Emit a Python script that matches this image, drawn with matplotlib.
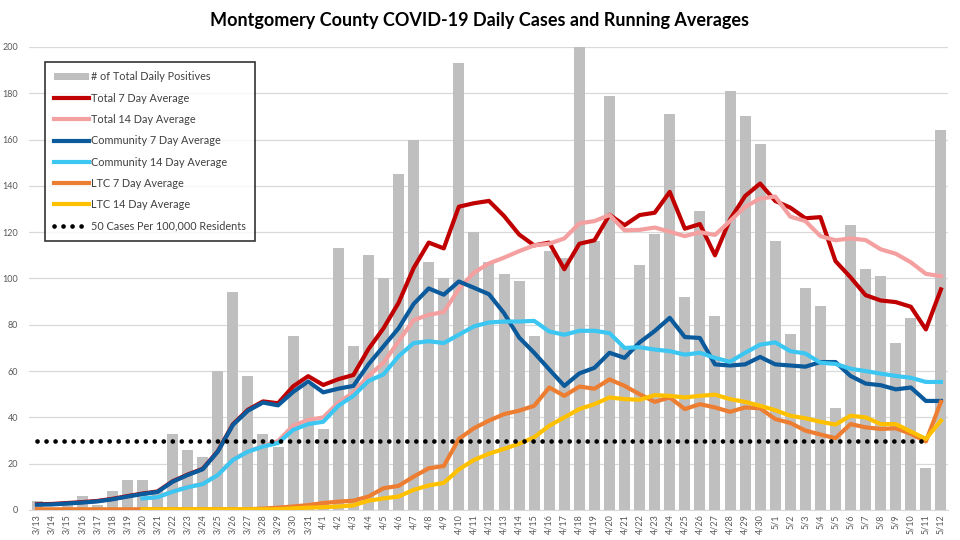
import matplotlib.pyplot as plt
import numpy as np

nan = np.nan

dates = ["3/13", "3/14", "3/15", "3/16", "3/17", "3/18", "3/19", "3/20", "3/21", "3/22",
         "3/23", "3/24", "3/25", "3/26", "3/27", "3/28", "3/29", "3/30", "3/31", "4/1",
         "4/2", "4/3", "4/4", "4/5", "4/6", "4/7", "4/8", "4/9", "4/10", "4/11",
         "4/12", "4/13", "4/14", "4/15", "4/16", "4/17", "4/18", "4/19", "4/20", "4/21",
         "4/22", "4/23", "4/24", "4/25", "4/26", "4/27", "4/28", "4/29", "4/30", "5/1",
         "5/2", "5/3", "5/4", "5/5", "5/6", "5/7", "5/8", "5/9", "5/10", "5/11", "5/12"]

daily_positives = [4, 1, 2, 6, 2, 8, 13, 13, 8, 33,
                   26, 23, 60, 94, 58, 33, 27, 75, 54, 35,
                   113, 71, 110, 100, 145, 160, 107, 100, 193, 120,
                   107, 102, 99, 75, 112, 109, 200, 116, 179, 71,
                   106, 119, 171, 92, 129, 84, 181, 170, 158, 116,
                   76, 96, 88, 44, 123, 104, 101, 72, 83, 18, 164]

total_7 = [2.5, 2.6, 3.0, 3.4, 3.9, 4.8, 6.0, 7.1, 8.0, 12.4,
           15.3, 17.8, 25.4, 37.0, 43.3, 46.9, 46.1, 53.4, 57.8, 54.0,
           56.5, 58.3, 69.5, 78.5, 89.5, 104.5, 115.5, 113.0, 131.0, 132.5,
           133.5, 127.0, 119.0, 114.3, 115.5, 104.0, 115.0, 116.5, 127.5, 123.0,
           127.4, 128.4, 137.4, 121.5, 123.5, 110.0, 125.5, 135.6, 141.0, 133.5,
           130.6, 126.0, 126.5, 107.5, 100.5, 92.8, 90.5, 89.8, 87.8, 78.0, 95.3]

total_14 = [nan, nan, nan, nan, nan, nan, nan, 5.0, 5.5, 8.0,
            9.9, 11.3, 15.2, 21.7, 25.3, 27.5, 29.8, 36.4, 38.9, 40.0,
            46.4, 50.7, 57.9, 63.6, 72.9, 82.0, 84.3, 85.5, 95.5, 102.5,
            106.5, 109.0, 111.8, 114.3, 115.0, 117.3, 123.8, 124.8, 127.4, 120.8,
            121.0, 122.0, 120.2, 118.3, 120.0, 118.8, 124.8, 131.0, 134.5, 135.4,
            126.7, 124.8, 118.3, 116.5, 117.3, 116.6, 112.6, 110.7, 107.0, 102.0, 101.0]

community_7 = [2.3, 2.4, 2.8, 3.2, 3.7, 4.6, 5.8, 6.9, 7.8, 12.2,
               15.1, 17.6, 25.2, 36.7, 42.9, 46.4, 45.2, 51.0, 55.5, 50.8,
               52.4, 53.6, 62.9, 70.7, 78.5, 89.0, 95.7, 93.0, 98.7, 96.0,
               93.2, 85.0, 74.5, 67.9, 60.7, 53.6, 59.0, 61.4, 67.9, 65.7,
               72.4, 77.3, 83.0, 74.7, 74.3, 62.9, 62.4, 62.9, 66.1, 62.9,
               62.4, 61.9, 63.9, 63.9, 57.9, 54.6, 53.9, 52.1, 52.9, 47.1, 47.1]

community_14 = [nan, nan, nan, nan, nan, nan, nan, 5.0, 5.5, 7.9,
                9.8, 11.2, 15.1, 21.6, 25.2, 27.4, 28.9, 34.6, 37.1, 38.1,
                45.0, 49.3, 55.7, 58.6, 66.4, 72.1, 72.9, 72.1, 75.7, 79.3,
                81.0, 81.4, 81.4, 81.7, 77.1, 75.7, 77.4, 77.4, 76.4, 70.0,
                70.3, 69.3, 68.6, 67.1, 67.9, 65.7, 64.0, 67.9, 71.4, 72.4,
                68.6, 67.6, 63.6, 63.1, 61.0, 60.0, 58.9, 57.9, 57.1, 55.3, 55.3]

ltc_7 = [0.3, 0.3, 0.3, 0.3, 0.3, 0.3, 0.3, 0.3, 0.3, 0.3,
         0.3, 0.3, 0.3, 0.3, 0.3, 0.6, 1.0, 1.5, 2.1, 3.0,
         3.6, 4.0, 5.8, 9.4, 10.4, 14.4, 18.0, 19.0, 30.7, 35.3,
         38.6, 41.4, 42.9, 45.0, 52.9, 49.3, 53.3, 52.4, 56.4, 53.6,
         50.0, 46.7, 48.6, 43.6, 45.7, 44.3, 42.4, 44.3, 43.9, 39.3,
         37.6, 34.3, 32.6, 31.0, 37.1, 35.7, 35.0, 35.3, 32.9, 29.6, 46.7]

ltc_14 = [nan, nan, nan, nan, nan, nan, nan, 0.3, 0.3, 0.3,
          0.3, 0.3, 0.3, 0.3, 0.3, 0.3, 0.3, 0.7, 1.0, 1.2,
          1.5, 2.0, 4.0, 5.0, 5.8, 8.7, 10.6, 11.7, 17.5, 21.6,
          24.3, 26.4, 28.6, 31.4, 36.4, 40.0, 43.6, 45.7, 48.6, 47.9,
          47.6, 49.6, 49.3, 48.6, 49.3, 49.8, 47.9, 46.7, 45.0, 43.1,
          40.7, 39.6, 38.1, 36.9, 40.7, 40.0, 37.1, 37.1, 33.9, 30.7, 38.6]

threshold = 30  # 50 cases per 100,000 residents
threshold_days = 60  # drawn 3/13 through 5/11

plt.rcParams['font.family'] = ['Lato', 'DejaVu Sans']

fig = plt.figure(figsize=(9.6, 5.4), dpi=100)
ax = fig.add_axes([0.0307, 0.0556, 0.9573, 0.8574])

x = np.arange(len(dates))
ax.bar(x, daily_positives, width=0.73, color='#bfbfbf', label='# of Total Daily Positives', zorder=2)

lw = 3.0
ax.plot(x, total_7, color='#c00000', lw=lw, label='Total 7 Day Average', zorder=3)
ax.plot(x, total_14, color='#f4a0a0', lw=lw, label='Total 14 Day Average', zorder=3)
ax.plot(x, community_7, color='#0b5a9c', lw=lw, label='Community 7 Day Average', zorder=3)
ax.plot(x, community_14, color='#3cc6f2', lw=lw, label='Community 14 Day Average', zorder=3)
ax.plot(x, ltc_7, color='#ed7d31', lw=lw, label='LTC 7 Day Average', zorder=3)
ax.plot(x, ltc_14, color='#ffc000', lw=lw, label='LTC 14 Day Average', zorder=3)
ax.plot(x[:threshold_days], [threshold] * threshold_days, color='black', lw=3.4,
        linestyle=(0, (0.01, 1.9)), dash_capstyle='round', solid_capstyle='round',
        label='50 Cases Per 100,000 Residents', zorder=4)

ax.set_xlim(-0.5, len(dates) - 0.5)
ax.set_ylim(0, 200)
ax.set_yticks(range(0, 201, 20))
ax.set_xticks(x)
ax.set_xticklabels(dates, rotation=90, fontsize=6.5, color='#595959')
ax.tick_params(axis='y', labelsize=6.5, labelcolor='#595959', length=0, pad=8)
ax.tick_params(axis='x', length=0, pad=3)
ax.grid(axis='y', color='#d9d9d9', lw=0.9, zorder=0)
ax.set_axisbelow(True)
for side in ['top', 'right', 'left']:
    ax.spines[side].set_visible(False)
ax.spines['bottom'].set_color('#d9d9d9')

# bars first in the legend, as in the original
handles, labels = ax.get_legend_handles_labels()
order = [len(handles) - 1] + list(range(len(handles) - 1))
leg = ax.legend([handles[i] for i in order], [labels[i] for i in order],
                loc='upper left', bbox_to_anchor=(0.017, 0.967), borderaxespad=0,
                fontsize=7.8, frameon=True, fancybox=False, edgecolor='black',
                handlelength=3.2, handletextpad=0.2, labelspacing=0.95, borderpad=0.85)
leg.get_frame().set_linewidth(1.2)
for t in leg.get_texts():
    t.set_color('#404040')

fig.text(0.5, 0.962, 'Montgomery County COVID-19 Daily Cases and Running Averages',
         ha='center', va='center', fontsize=13, fontweight='bold', color='black')

fig.savefig('out.png', dpi=100)
